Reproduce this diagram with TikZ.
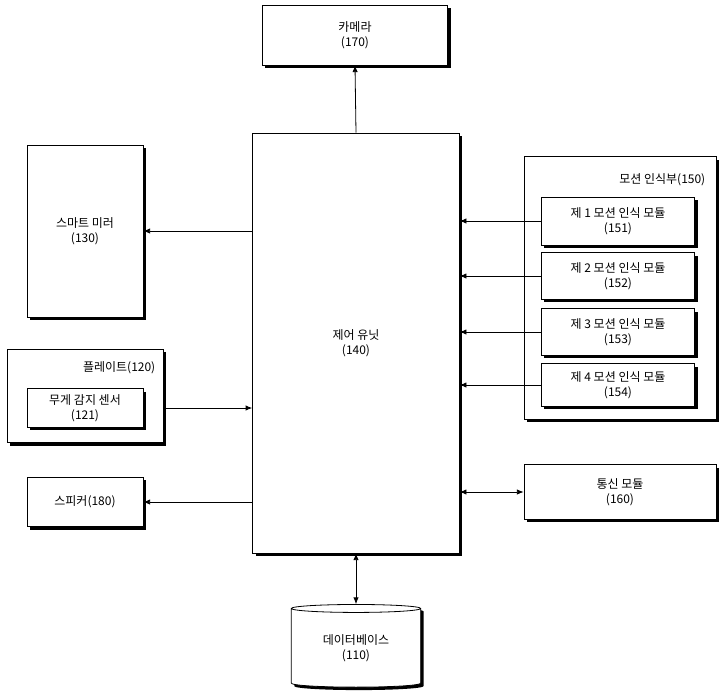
\documentclass[tikz,border=0pt]{standalone}
\usepackage{fontspec}
\setmainfont{Noto Sans CJK KR}
\usetikzlibrary{shapes.geometric,shadows,arrows.meta,positioning}
\begin{document}
\begin{tikzpicture}[x=0.75pt,y=-0.75pt,font=\fontsize{9}{11}\selectfont]
\tikzstyle{blk}=[draw,fill=white,line width=0.6pt,align=center,inner sep=0pt,
  drop shadow={shadow xshift=2.2pt,shadow yshift=-2.2pt,fill=black,opacity=1}]
\tikzstyle{arr}=[line width=0.6pt,-{Latex[length=5pt,width=4pt]}]
\tikzstyle{barr}=[line width=0.6pt,{Latex[length=5pt,width=4pt]}-{Latex[length=5pt,width=4pt]}]
\useasboundingbox (0,0) rectangle (722,696);
% boxes
\node[blk,minimum width=139pt,minimum height=45pt] (cam) at (355,35) {카메라\\(170)};
\node[blk,minimum width=155pt,minimum height=315pt] (ctrl) at (356,343) {제어 유닛\\(140)};
\node[blk,minimum width=87pt,minimum height=129pt] (mirror) at (85,231) {스마트 미러\\(130)};
\node[blk,minimum width=117pt,minimum height=70pt] (plate) at (85,396) {};
\node[anchor=east] at (160,368) {플레이트(120)};
\node[blk,minimum width=87pt,minimum height=29pt] (sensor) at (85,408) {무게 감지 센서\\(121)};
\node[blk,minimum width=87pt,minimum height=37pt] (spk) at (85,502) {스피커(180)};
\node[blk,minimum width=144pt,minimum height=197pt] (motion) at (620,288) {};
\node[anchor=east] at (710,180) {모션 인식부(150)};
\node[blk,minimum width=115pt,minimum height=36pt] (m1) at (618,221) {제 1 모션 인식 모듈\\(151)};
\node[blk,minimum width=115pt,minimum height=35pt] (m2) at (618,276) {제 2 모션 인식 모듈\\(152)};
\node[blk,minimum width=115pt,minimum height=35pt] (m3) at (618,332) {제 3 모션 인식 모듈\\(153)};
\node[blk,minimum width=115pt,minimum height=32pt] (m4) at (618,385) {제 4 모션 인식 모듈\\(154)};
\node[blk,minimum width=144pt,minimum height=41pt] (comm) at (620,492) {통신 모듈\\(160)};
\node[cylinder,shape border rotate=90,aspect=0.12,blk,minimum width=97pt,minimum height=62pt] (db) at (356,648) {데이터베이스\\(110)};
% connectors
\draw[arr] (ctrl.north) -- (cam.south);
\draw[arr] (ctrl.west|-mirror) -- (mirror.east);
\draw[arr] (plate.east|-sensor) -- (ctrl.west|-sensor);
\draw[arr] (ctrl.west|-spk) -- (spk.east);
\foreach \m in {m1,m2,m3,m4}
  \draw[arr] (\m.west) -- (ctrl.east|-\m);
\draw[barr] (ctrl.east|-comm) -- (comm.west);
\draw[barr] (ctrl.south) -- (db.top);
\end{tikzpicture}
\end{document}
